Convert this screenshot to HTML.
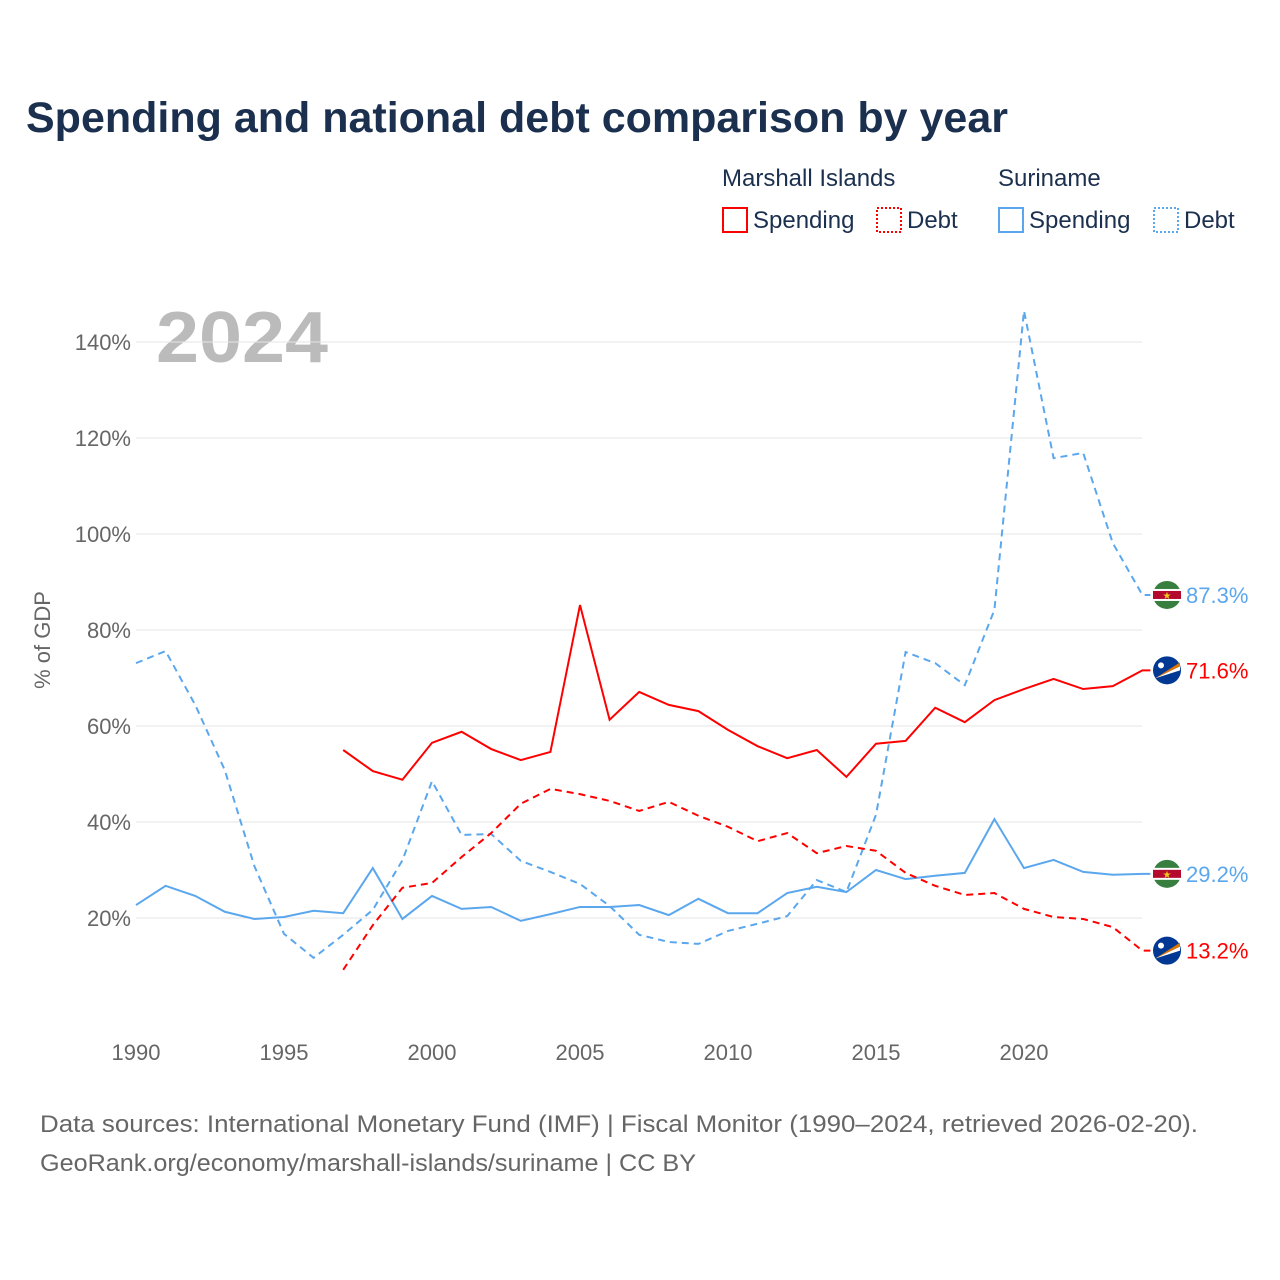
<!DOCTYPE html>
<html><head><meta charset="utf-8"><style>
html,body{margin:0;padding:0;background:#fff;}
body{width:1280px;height:1280px;position:relative;font-family:"Liberation Sans",sans-serif;overflow:hidden;}
svg{position:absolute;left:0;top:0;}
</style></head><body>
<svg id="chart" width="1280" height="1280" font-family="Liberation Sans, sans-serif">
<text x="26" y="132" font-size="43" font-weight="bold" fill="#1b2f4e" textLength="982" lengthAdjust="spacingAndGlyphs">Spending and national debt comparison by year</text>
<g font-size="24" fill="#1b2f4e">
<text x="722" y="186">Marshall Islands</text>
<text x="998" y="186">Suriname</text>
<g><rect x="723" y="208" width="24" height="24" fill="none" stroke="#f00" stroke-width="2"/><text x="753" y="228">Spending</text></g>
<g><rect x="877" y="208" width="24" height="24" fill="none" stroke="#f00" stroke-width="2" stroke-dasharray="2,2"/><text x="907" y="228">Debt</text></g>
<g><rect x="999" y="208" width="24" height="24" fill="none" stroke="#5ba7ee" stroke-width="2"/><text x="1029" y="228">Spending</text></g>
<g><rect x="1154" y="208" width="24" height="24" fill="none" stroke="#5ba7ee" stroke-width="2" stroke-dasharray="2,2"/><text x="1184" y="228">Debt</text></g>
</g>
<text x="156" y="362" font-size="72" font-weight="bold" fill="#bbb" textLength="172" lengthAdjust="spacingAndGlyphs">2024</text>
<text transform="translate(50,640) rotate(-90)" text-anchor="middle" font-size="22" fill="#666">% of GDP</text>
<g id="grid"></g><g id="series"></g><g id="ends"></g>
<text x="40" y="1132" font-size="24" fill="#666" textLength="1158" lengthAdjust="spacingAndGlyphs">Data sources: International Monetary Fund (IMF) | Fiscal Monitor (1990–2024, retrieved 2026-02-20).</text>
<text x="40" y="1171" font-size="24" fill="#666" textLength="656" lengthAdjust="spacingAndGlyphs">GeoRank.org/economy/marshall-islands/suriname | CC BY</text>
</svg>
<script>
const years=[];for(let y=1990;y<=2024;y++)years.push(y);
const yTicks=[20,40,60,80,100,120,140];
const xTicks=[1990,1995,2000,2005,2010,2015,2020];
const srDebt=[73.1,75.6,64.4,50.8,30.8,16.7,11.7,16.5,21.7,32,48.5,37.3,37.5,31.9,29.6,27.1,22.5,16.5,15,14.6,17.3,18.8,20.4,27.9,25.4,41.5,75.4,73.1,68.5,84.2,146.5,115.8,116.9,98.1,87.3];
const srSpend=[22.7,26.7,24.6,21.3,19.8,20.2,21.5,21,30.4,19.8,24.6,21.9,22.3,19.4,20.8,22.3,22.3,22.7,20.6,24,21,21,25.2,26.5,25.4,30,28.1,28.8,29.4,40.6,30.4,32.1,29.6,29,29.2];
const miSpend=[null,null,null,null,null,null,null,55,50.6,48.8,56.5,58.8,55.2,52.9,54.6,85.2,61.3,67.1,64.4,63.1,59.2,55.8,53.3,55,49.4,56.3,56.9,63.8,60.8,65.4,67.7,69.8,67.7,68.3,71.6];
const miDebt=[null,null,null,null,null,null,null,9.2,18.5,26.3,27.3,32.7,37.7,43.8,46.9,45.8,44.4,42.3,44.2,41.3,39,36,37.7,33.5,35,34,29.4,26.7,24.8,25.2,21.9,20.2,19.8,18.1,13.2];
const X=y=>136+(y-1990)*29.6, Y=v=>1014-v*4.8;
const NS='http://www.w3.org/2000/svg';
function mk(t,a,p){const e=document.createElementNS(NS,t);for(const k in a)e.setAttribute(k,a[k]);p.appendChild(e);return e;}
const grid=document.getElementById('grid');
yTicks.forEach(v=>{const l=mk('line',{x1:136,x2:1142,y1:Y(v),y2:Y(v),stroke:'#e6e6e6'},grid);


const t=mk('text',{x:131,y:Y(v)+8,'text-anchor':'end','font-size':22,fill:'#666'},grid);t.textContent=v+'%';

});
xTicks.forEach(v=>{const t=mk('text',{x:X(v),y:1060,'text-anchor':'middle','font-size':22,fill:'#666'},grid);t.textContent=v;

});
const ser=document.getElementById('series');
function line(vals,col,dash,name){let d='';let pen=false;vals.forEach((v,i)=>{if(v==null){pen=false;return;}d+=(pen?'L':'M')+X(years[i])+','+Y(v);pen=true;});
d+='h8';
const p=mk('path',{d:d,fill:'none',stroke:col,'stroke-width':2,'stroke-dasharray':dash?'7,5':'none'},ser);

}
line(srDebt,'#5ba7ee',true,'suriname-debt-line');
line(srSpend,'#5ba7ee',false,'suriname-spending-line');
line(miSpend,'#f00',false,'marshall-spending-line');
line(miDebt,'#f00',true,'marshall-debt-line');
const ends=document.getElementById('ends');
function endLabel(v,col,flag,name){const cy=Y(v);const g=mk('g',{},ends);


if(flag==='sr'){mk('circle',{cx:1167,cy:cy,r:14,fill:'#377e3f'},g);mk('rect',{x:1153,y:cy-6,width:28,height:12,fill:'#fff'},g);mk('rect',{x:1153,y:cy-4,width:28,height:8,fill:'#b40a2d'},g);mk('text',{x:1167,y:cy+4,'text-anchor':'middle','font-size':10,fill:'#ecc81d'},g).textContent='★';}
else{mk('circle',{cx:1167,cy:cy,r:14,fill:'#003893'},g);mk('path',{d:`M${1155},${cy+8}L${1180},${cy-8}L${1180},${cy-4}Z`,fill:'#dd7500'},g);mk('path',{d:`M${1155},${cy+8}L${1180},${cy-4}L${1180},${cy}Z`,fill:'#fff'},g);mk('circle',{cx:1161,cy:cy-5,r:3,fill:'#fff'},g);}
mk('text',{x:1186,y:cy+8,'font-size':22,fill:col},g).textContent=v.toFixed(1)+'%';}
endLabel(srDebt[34],'#5ba7ee','sr','end-label-suriname-debt');
endLabel(miSpend[34],'#f00','mi','end-label-marshall-spending');
endLabel(srSpend[34],'#5ba7ee','sr','end-label-suriname-spending');
endLabel(miDebt[34],'#f00','mi','end-label-marshall-debt');
</script>
</body></html>
